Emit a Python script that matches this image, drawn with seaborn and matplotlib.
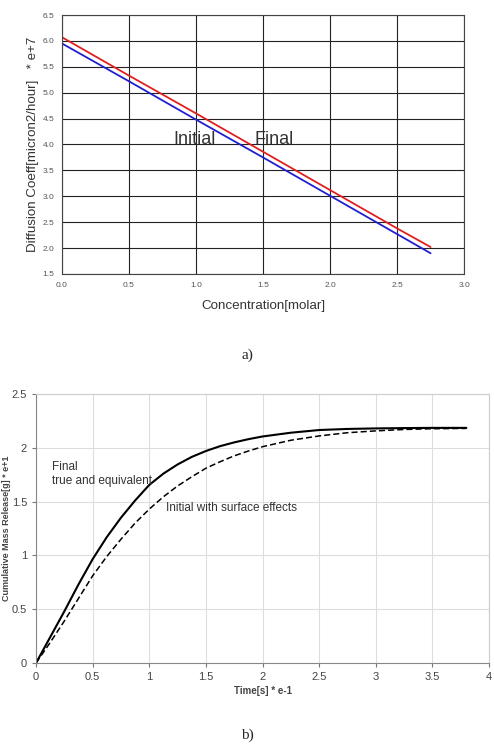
import numpy as np
import pandas as pd
import matplotlib
matplotlib.use("Agg")
import matplotlib.pyplot as plt
import seaborn as sns

# a) diffusion coefficient vs concentration
conc = [0.0, 0.5, 1.0, 1.5, 2.0, 2.5, 2.75]
d_final = [6.07, 5.33, 4.60, 3.86, 3.12, 2.38, 2.02]
d_initial = [5.95, 5.22, 4.48, 3.75, 3.01, 2.27, 1.90]

# b) cumulative mass release vs time
time = [0.0, 0.125, 0.25, 0.375, 0.5, 0.625, 0.75, 0.875, 1.0, 1.125, 1.25, 1.375,
        1.5, 1.625, 1.75, 1.875, 2.0, 2.25, 2.5, 2.75, 3.0, 3.25, 3.5, 3.8]
m_final = [0.0, 0.24, 0.48, 0.73, 0.965, 1.17, 1.35, 1.51, 1.655, 1.76, 1.845, 1.915,
           1.97, 2.015, 2.05, 2.08, 2.105, 2.14, 2.165, 2.175, 2.18, 2.183, 2.185, 2.185]
m_initial = [0.0, 0.19, 0.39, 0.60, 0.81, 0.99, 1.15, 1.30, 1.43, 1.545, 1.645, 1.73,
             1.81, 1.87, 1.925, 1.97, 2.01, 2.07, 2.11, 2.14, 2.157, 2.17, 2.177, 2.18]

sns.set_style("white")
plt.rcParams['font.family'] = ['Liberation Sans', 'DejaVu Sans']

fig = plt.figure(figsize=(4.94, 7.5), dpi=100)

# ---- top chart ----
ax1 = fig.add_axes([0.1255, 0.6347, 0.814, 0.3453])
df_a = pd.DataFrame({'conc': conc, 'final': d_final, 'initial': d_initial})
sns.lineplot(data=df_a, x='conc', y='final', color='#e02020', lw=1.3, ax=ax1)
sns.lineplot(data=df_a, x='conc', y='initial', color='#2020d0', lw=1.3, ax=ax1)
ax1.set_xlim(0, 3.0)
ax1.set_ylim(1.5, 6.5)
ax1.set_xticks(np.arange(0, 3.01, 0.5))
ax1.set_yticks(np.arange(1.5, 6.51, 0.5))
ax1.set_xticklabels([f"{v:.1f}" for v in np.arange(0, 3.01, 0.5)])
ax1.set_yticklabels([f"{v:.1f}" for v in np.arange(1.5, 6.51, 0.5)])
ax1.tick_params(labelsize=6, colors='#555555', length=2)
ax1.grid(True, color='#222222', lw=0.8)
for s in ax1.spines.values():
    s.set_color('#444444')
    s.set_linewidth(0.8)
ax1.set_xlabel('Concentration[molar]', fontsize=9.6, color='#333333', labelpad=8)
ax1.set_ylabel('Diffusion Coeff[micron2/hour]   * e+7', fontsize=9.6, color='#333333')
ax1.yaxis.set_label_coords(-0.057, 0.5)
ax1.text(0.99, 4.1, 'Initial', fontsize=13, color='#333333', ha='center', va='center')
ax1.text(1.58, 4.1, 'Final', fontsize=13, color='#333333', ha='center', va='center')
fig.text(0.5, 1 - 355 / 750, 'a)', fontsize=11, family='Liberation Serif', ha='center', va='center')

# ---- bottom chart ----
ax2 = fig.add_axes([0.0729, 0.116, 0.917, 0.3587])
df_b = pd.DataFrame({'time': time, 'final': m_final, 'initial': m_initial})
sns.lineplot(data=df_b, x='time', y='final', color='black', lw=1.5, ax=ax2)
sns.lineplot(data=df_b, x='time', y='initial', color='black', lw=1.1, ax=ax2)
ax2.lines[-1].set_dashes([4, 2])
for ln in ax2.lines:
    ln.set_solid_joinstyle('round')
    ln.set_dash_joinstyle('round')
ax2.set_xlim(0, 4)
ax2.set_ylim(0, 2.5)
ax2.set_xticks(np.arange(0, 4.01, 0.5))
ax2.set_yticks(np.arange(0, 2.51, 0.5))
ax2.set_xticklabels(['0', '0.5', '1', '1.5', '2', '2.5', '3', '3.5', '4'])
ax2.set_yticklabels(['0', '0.5', '1', '1.5', '2', '2.5'])
ax2.tick_params(labelsize=8, colors='#444444', length=3, bottom=True, left=True, color='#777777')
ax2.grid(True, color='#dddddd', lw=0.8)
for side, s in ax2.spines.items():
    s.set_color('#888888' if side in ('left', 'bottom') else '#cccccc')
    s.set_linewidth(0.8)
ax2.set_xlabel('Time[s] * e-1', fontsize=7, fontweight='bold', color='#444444', labelpad=3)
ax2.set_ylabel('Cumulative Mass Release[g] * e+1', fontsize=6.5, fontweight='bold', color='#444444')
ax2.yaxis.set_label_coords(-0.055, 0.5)
ax2.text(0.14, 1.82, 'Final', fontsize=8.5, color='#333333', va='center')
ax2.text(0.14, 1.69, 'true and equivalent', fontsize=8.5, color='#333333', va='center')
ax2.text(1.15, 1.445, 'Initial with surface effects', fontsize=8.5, color='#333333', va='center')
fig.text(0.5, 1 - 735 / 750, 'b)', fontsize=11, family='Liberation Serif', ha='center', va='center')

fig.savefig('out.png', dpi=100)
